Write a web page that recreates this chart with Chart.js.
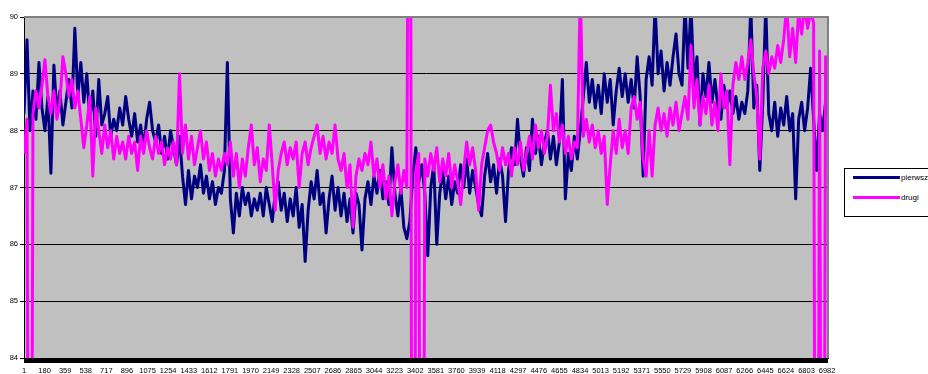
<!DOCTYPE html>
<html>
<head>
<meta charset="utf-8">
<script src="https://cdn.jsdelivr.net/npm/chart.js@4.4.1/dist/chart.umd.min.js"></script>
<style>
  html, body { margin: 0; padding: 0; background: #fff; overflow: hidden; }
  #wrap { position: relative; width: 928px; height: 374px; overflow: hidden; }
  #chart { position: absolute; left: 0; top: 0; }
  #legend {
    position: absolute; left: 844px; top: 168px; width: 100px; height: 47px;
    border: 1px solid #000; background: #fff;
    font-family: "Liberation Sans", Arial, sans-serif; font-size: 8px; color: #000;
  }
  .item { position: absolute; left: 8px; height: 10px; white-space: nowrap; }
  .item .swatch { position: absolute; left: 0; top: 3px; width: 47px; height: 3px; }
  .item .label { position: absolute; left: 48px; top: 0; line-height: 10px; }
</style>
</head>
<body>
<div id="wrap">
  <canvas id="chart" width="928" height="374"></canvas>
  <div id="legend"></div>
</div>
<script>
// x-axis category labels (every 179th sample)
const TICK_LABELS = [1, 180, 359, 538, 717, 896, 1075, 1254, 1433, 1612, 1791, 1970,
  2149, 2328, 2507, 2686, 2865, 3044, 3223, 3402, 3581, 3760, 3939, 4118, 4297,
  4476, 4655, 4834, 5013, 5192, 5371, 5550, 5729, 5908, 6087, 6266, 6445, 6624,
  6803, 6982];

// samples, one every 26 rows of the sheet
const SAMPLE_STEP = 26;

const SERIES_NAMES = ["pierwszy", "drugi"];
const SERIES_COLORS = ["#000080", "#ff00ff"];

const PIERWSZY = [
  88.3, 89.6, 88.0, 88.7, 88.2, 89.2, 88.4, 88.0, 88.6, 87.25,
  89.15, 88.3, 88.7, 88.1, 88.5, 88.9, 88.4, 89.8, 88.6, 89.2,
  88.5, 89.0, 88.2, 88.7, 87.9, 88.9, 88.1, 88.3, 88.6, 87.9,
  88.2, 88.0, 88.4, 88.1, 88.6, 88.2, 87.9, 88.3, 87.8, 88.1,
  87.7, 88.2, 88.5, 88.0, 87.8, 88.1, 87.6, 87.9, 87.5, 88.0,
  87.7, 87.4, 87.9, 87.2, 86.7, 87.3, 86.8, 87.2, 87.0, 87.4,
  86.9, 87.2, 86.8, 87.1, 86.7, 87.0, 86.9, 87.3, 89.2, 86.8,
  86.2, 86.9, 86.5, 87.0, 86.7, 86.9, 86.5, 86.8, 86.6, 86.9,
  86.5, 87.0, 86.7, 86.4, 86.9, 87.1, 86.6, 86.9, 86.4, 86.8,
  86.5, 87.0, 86.3, 86.7, 85.7, 86.6, 87.1, 86.8, 87.3, 86.7,
  86.9, 86.2, 86.8, 87.2, 86.6, 87.0, 86.5, 86.9, 86.4, 86.8,
  86.2, 86.9, 86.7, 85.9, 86.8, 87.1, 86.7, 87.2, 86.9, 87.3,
  86.8, 87.1, 86.7, 87.7, 86.9, 86.5, 87.0, 86.3, 86.1, 86.4,
  87.2, 87.7, 87.1, 87.4, 86.9, 85.8, 87.0, 87.4, 86.0, 86.9,
  87.3, 86.8, 87.2, 86.7, 87.1, 86.9, 87.4, 87.0, 87.5, 86.9,
  87.3, 87.0, 86.7, 86.5, 87.2, 87.6, 87.1, 87.4, 86.9, 87.5,
  87.2, 86.4, 87.3, 87.7, 87.4, 88.2, 87.5, 87.2, 87.7, 87.3,
  88.2, 87.6, 87.9, 87.4, 87.8, 88.0, 87.5, 87.9, 87.4, 87.8,
  88.9, 86.8, 87.6, 87.3, 87.9, 87.5, 88.0, 88.6, 89.2, 88.5,
  88.9, 88.4, 88.8, 88.3, 89.0, 88.5, 88.9, 88.1, 88.7, 89.1,
  88.6, 89.0, 88.5, 88.9, 88.4, 89.3, 88.6, 87.2, 88.9, 89.3,
  88.8, 90.2, 89.0, 89.4, 88.7, 89.2, 88.8, 89.3, 89.7, 89.0,
  88.8, 90.2, 89.1, 90.2, 88.8, 89.3, 88.1, 89.0, 88.6, 89.2,
  88.5, 88.9, 88.4, 88.2, 88.8, 88.4, 88.7, 88.3, 88.6, 88.2,
  88.5, 88.3, 88.7, 90.2, 88.4, 88.8, 87.3, 88.5, 90.2, 88.3,
  88.0, 88.5, 87.9, 88.4, 88.1, 88.6, 88.0, 88.3, 86.8, 88.2,
  88.5, 88.0, 88.4, 89.1, 88.2, 87.3, 88.3, 88.0, 88.5, 88.2
];

const DRUGI = [
  87.6, 88.2, 70, 88.3, 88.7, 88.4, 88.8, 89.25, 88.6, 88.3,
  88.7, 88.2, 88.5, 89.3, 89.0, 88.6, 88.9, 88.4, 88.7, 88.2,
  87.7, 88.1, 88.6, 87.2, 88.4, 88.0, 87.6, 88.1, 87.7, 88.0,
  87.5, 87.9, 87.6, 87.8, 87.5, 87.9, 87.6, 87.8, 87.3, 87.9,
  87.6, 88.0, 87.7, 87.5, 87.9, 87.6, 87.8, 87.4, 87.7, 87.5,
  87.8, 87.4, 89.0, 87.6, 88.1, 87.5, 87.9, 87.4, 87.7, 88.0,
  87.5, 87.8, 87.3, 87.6, 87.2, 87.5, 87.3, 87.6, 87.4, 87.8,
  87.2, 87.6, 87.0, 87.5, 87.2, 87.7, 88.1, 87.4, 87.7, 87.1,
  87.5, 87.3, 88.1, 87.4, 86.6, 87.3, 87.6, 87.8, 87.4, 87.7,
  87.5, 87.8, 87.0, 87.6, 87.8, 87.4, 87.7, 87.9, 88.1, 87.6,
  87.9, 87.5, 87.8, 87.6, 88.1, 87.5, 87.3, 87.6, 87.0, 87.4,
  86.3, 87.2, 87.5, 87.3, 87.6, 87.4, 87.8, 87.2, 87.5, 87.0,
  87.4, 86.8, 87.2, 86.5, 87.1, 87.4, 86.9, 87.3, 87.0, 100,
  70, 87.3, 87.6, 70, 87.5, 87.2, 87.6, 87.3, 87.7, 87.1,
  87.5, 87.2, 87.6, 87.0, 87.4, 87.1, 86.7, 87.3, 87.8, 87.4,
  87.7, 87.3, 86.6, 87.4, 87.7, 88.0, 88.1, 87.8, 87.6, 87.3,
  87.7, 87.4, 87.6, 87.2, 87.7, 87.4, 87.8, 87.3, 87.6, 87.9,
  87.5, 88.1, 87.7, 88.0, 87.6, 87.9, 88.8, 88.0, 88.3, 87.8,
  88.1, 87.6, 87.9, 87.5, 87.8, 87.7, 90.5, 87.9, 88.2, 87.8,
  88.1, 87.7, 88.0, 87.6, 87.9, 86.7, 87.4, 88.0, 87.6, 88.2,
  87.7, 88.0, 87.6, 88.4, 88.6, 88.2, 88.5, 87.5, 87.2, 88.0,
  87.2, 88.1, 88.4, 88.0, 88.3, 87.9, 88.4, 88.1, 88.5, 88.0,
  88.3, 88.6, 88.2, 89.5, 88.4, 88.9, 88.1, 88.6, 88.3, 88.8,
  88.1, 88.5, 88.0, 89.0, 88.4, 88.7, 87.4, 88.8, 89.2, 88.9,
  89.3, 88.9, 89.2, 89.6, 89.0, 88.6, 87.5, 89.1, 89.4, 89.0,
  89.3, 89.1, 89.5, 89.2, 89.6, 90.2, 89.3, 89.8, 89.2, 90.1,
  89.7, 90.2, 89.8, 90.1, 89.9, 70, 89.4, 70, 89.3, 89.0
];

const Y_MIN = 84;
const Y_MAX = 90;
const X_MIN = 1;
const X_MAX = 6990;

function toPoints(values) {
  return values.map((value, i) => ({ x: 1 + i * SAMPLE_STEP, y: value }));
}

// grey plot background, grey frame, heavy black category-tick band
const plotFrame = {
  id: "plotFrame",
  beforeDraw(chart) {
    const { ctx, chartArea } = chart;
    ctx.save();
    ctx.fillStyle = "#c0c0c0";
    ctx.fillRect(chartArea.left, chartArea.top, chartArea.right - chartArea.left, chartArea.bottom - chartArea.top);
    ctx.restore();
  },
  afterDraw(chart) {
    const { ctx, chartArea } = chart;
    ctx.save();
    ctx.strokeStyle = "#808080";
    ctx.lineWidth = 2;
    ctx.beginPath();
    ctx.moveTo(chartArea.left, chartArea.top);
    ctx.lineTo(chartArea.right, chartArea.top);
    ctx.lineTo(chartArea.right, chartArea.bottom);
    ctx.stroke();
    ctx.fillStyle = "#000";
    ctx.fillRect(chartArea.left, chartArea.bottom, chartArea.right - chartArea.left, 5);
    ctx.restore();
  },
};

function buildLegend() {
  const legend = document.getElementById("legend");
  SERIES_NAMES.forEach((name, i) => {
    const item = document.createElement("div");
    item.className = "item";
    item.style.top = (4 + i * 20) + "px";
    const swatch = document.createElement("div");
    swatch.className = "swatch";
    swatch.style.background = SERIES_COLORS[i];
    const label = document.createElement("span");
    label.className = "label";
    label.textContent = name;
    item.appendChild(swatch);
    item.appendChild(label);
    legend.appendChild(item);
  });
}

function renderChart() {
  const datasets = [PIERWSZY, DRUGI].map((values, i) => ({
    label: SERIES_NAMES[i],
    data: toPoints(values),
    borderColor: SERIES_COLORS[i],
    backgroundColor: SERIES_COLORS[i],
    borderWidth: 3,
    pointRadius: 0,
    tension: 0,
    fill: false,
    clip: 0,
    borderJoinStyle: "round",
    order: i === 0 ? 1 : 0,
  }));

  new Chart(document.getElementById("chart"), {
    type: "line",
    data: { datasets },
    options: {
      responsive: false,
      animation: false,
      devicePixelRatio: 1,
      layout: { padding: { top: 17, right: 100, left: 0, bottom: 0 } },
      plugins: {
        legend: { display: false },
        tooltip: { enabled: false },
      },
      scales: {
        x: {
          type: "linear",
          min: X_MIN,
          max: X_MAX,
          afterBuildTicks(scale) {
            scale.ticks = TICK_LABELS.map((value) => ({ value }));
          },
          afterFit(scale) {
            scale.height = 16;
          },
          ticks: {
            autoSkip: false,
            maxRotation: 0,
            minRotation: 0,
            padding: 3,
            color: "#000",
            font: { family: "'Liberation Sans', Arial, sans-serif", size: 7.5 },
            callback: (value) => String(value),
          },
          grid: {
            display: true,
            drawOnChartArea: false,
            drawTicks: true,
            tickLength: 5,
            color: "#000",
          },
          border: { display: true, color: "#000", width: 1 },
        },
        y: {
          min: Y_MIN,
          max: Y_MAX,
          afterFit(scale) {
            scale.width = 24;
          },
          ticks: {
            stepSize: 1,
            padding: 2,
            color: "#000",
            font: { family: "'Liberation Sans', Arial, sans-serif", size: 7.5 },
          },
          grid: {
            color: (ctx) => (ctx.tick && ctx.tick.value === Y_MAX ? "#808080" : "#000"),
            tickColor: "#000",
            lineWidth: 1,
            tickLength: 4,
          },
          border: { display: true, color: "#000", width: 1 },
        },
      },
    },
    plugins: [plotFrame],
  });
}

buildLegend();
renderChart();
</script>
</body>
</html>
